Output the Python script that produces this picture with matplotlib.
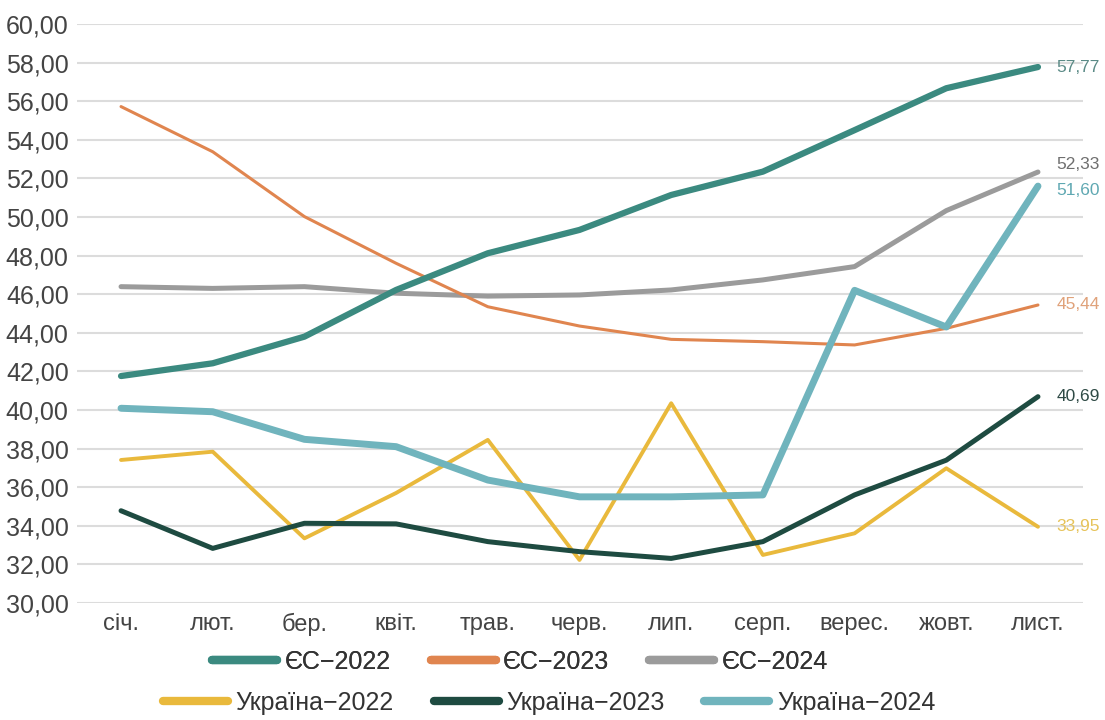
import matplotlib
matplotlib.use("Agg")
import matplotlib.pyplot as plt
from matplotlib.lines import Line2D

months = ["січ.", "лют.", "бер.", "квіт.", "трав.", "черв.", "лип.", "серп.", "верес.", "жовт.", "лист."]

eu_2022 = [41.76, 42.42, 43.80, 46.22, 48.12, 49.33, 51.14, 52.35, 54.50, 56.67, 57.77]
eu_2023 = [55.72, 53.38, 50.02, 47.60, 45.35, 44.35, 43.66, 43.54, 43.37, 44.23, 45.44]
eu_2024 = [46.39, 46.30, 46.39, 46.05, 45.90, 45.96, 46.22, 46.74, 47.43, 50.33, 52.33]
ua_2022 = [37.41, 37.84, 33.35, 35.70, 38.45, 32.23, 40.35, 32.49, 33.61, 36.98, 33.95]
ua_2023 = [34.78, 32.83, 34.13, 34.10, 33.18, 32.66, 32.31, 33.18, 35.60, 37.40, 40.69]
ua_2024 = [40.09, 39.91, 38.48, 38.10, 36.37, 35.50, 35.50, 35.60, 46.20, 44.30, 51.60]

yticks = [30, 32, 34, 36, 38, 40, 42, 44, 46, 48, 50, 52, 54, 56, 58, 60]

plt.rcParams["font.family"] = ["Liberation Sans", "DejaVu Sans"]

fig = plt.figure(figsize=(11.05, 7.2), dpi=100)
ax = fig.add_axes([0.0697, 0.1625, 0.9103, 0.8042])

x = list(range(len(months)))
series = [
    ("ЄС−2022", eu_2022, "#3b8a80", 4.5, 5),
    ("ЄС−2023", eu_2023, "#e0854f", 2.2, 4),
    ("ЄС−2024", eu_2024, "#9b9b9b", 3.6, 3),
    ("Україна−2022", ua_2022, "#e9b93c", 2.8, 6),
    ("Україна−2023", ua_2023, "#1e4b41", 3.6, 7),
    ("Україна−2024", ua_2024, "#70b4bd", 5.0, 8),
]
lines = {}
for name, vals, col, lw, z in series:
    (ln,) = ax.plot(x, vals, color=col, lw=lw, zorder=z, solid_capstyle="round",
                    solid_joinstyle="round", label=name)
    lines[name] = ln

ax.set_xlim(-0.48, 10.49)
ax.set_ylim(30, 60)
ax.set_yticks(yticks)
ax.set_yticklabels([f"{v:.2f}".replace(".", ",") for v in yticks], fontsize=18, color="#444444")
ax.set_xticks(x)
ax.set_xticklabels(months, fontsize=17, color="#444444")
ax.tick_params(axis="both", length=0)
ax.tick_params(axis="y", pad=6)
ax.tick_params(axis="x", pad=7)
ax.grid(axis="y", color="#dcdcdc", lw=1.5, zorder=0)
for s in ax.spines.values():
    s.set_visible(False)

end_labels = [
    (eu_2022[-1], 57.77, "#5a8a86"),
    (eu_2024[-1], 52.70, "#6f6f6f"),
    (ua_2024[-1], 51.35, "#5fa8b2"),
    (eu_2023[-1], 45.44, "#e0a27a"),
    (ua_2023[-1], 40.69, "#2e4a45"),
    (ua_2022[-1], 33.95, "#e6c35a"),
]
for val, ypos, col in end_labels:
    ax.text(10.2, ypos, f"{val:.2f}".replace(".", ","), fontsize=12.5, color=col,
            va="center", ha="left", clip_on=False)


def make_legend(names, center_x, center_y):
    hs = [Line2D([0], [0], color=lines[n].get_color(), lw=6, solid_capstyle="round") for n in names]
    leg = fig.legend(hs, names, loc="center", bbox_to_anchor=(center_x, center_y), ncol=3,
                     frameon=False, fontsize=18, handlelength=2.6, columnspacing=1.6,
                     handletextpad=0.3, borderpad=0, borderaxespad=0)
    for t in leg.get_texts():
        t.set_color("#333333")
    return leg


leg1 = make_legend(["ЄС−2022", "ЄС−2023", "ЄС−2024"], 520 / 1105, 1 - 662 / 720)
fig.add_artist(leg1)
make_legend(["Україна−2022", "Україна−2023", "Україна−2024"], 549 / 1105, 1 - 703 / 720)

fig.savefig("out.png", dpi=100, facecolor="white")
